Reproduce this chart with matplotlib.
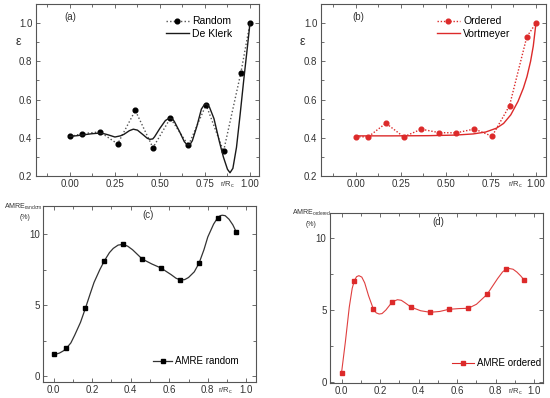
import matplotlib
matplotlib.use("Agg")
import matplotlib.pyplot as plt
from matplotlib.ticker import MultipleLocator

plt.rcParams['font.family'] = ['Liberation Sans', 'DejaVu Sans']
plt.rcParams['mathtext.fontset'] = 'custom'
plt.rcParams['mathtext.rm'] = 'Liberation Sans'
plt.rcParams['mathtext.it'] = 'Liberation Sans:italic'

# ---------------- data ----------------
x_eps = [0, 0.068, 0.166, 0.265, 0.363, 0.461, 0.558, 0.658, 0.756, 0.853, 0.949, 1.0]
random_eps = [0.407, 0.421, 0.431, 0.368, 0.543, 0.348, 0.503, 0.360, 0.573, 0.329, 0.739, 1.0]
ordered_eps = [0.405, 0.405, 0.476, 0.405, 0.445, 0.427, 0.426, 0.446, 0.408, 0.568, 0.928, 1.0]

deklerk_x = [0, 0.04, 0.08, 0.12, 0.145, 0.167, 0.19, 0.21, 0.25, 0.28, 0.30, 0.33, 0.352, 0.375,
             0.41, 0.43, 0.444, 0.46, 0.47, 0.50, 0.53, 0.545, 0.556, 0.57, 0.58, 0.61, 0.635,
             0.647, 0.657, 0.668, 0.68, 0.705, 0.73, 0.745, 0.754, 0.765, 0.775, 0.80, 0.83,
             0.852, 0.875, 0.889, 0.905, 0.925, 0.945, 0.965, 0.985, 1.0]
deklerk_y = [0.407, 0.411, 0.416, 0.421, 0.423, 0.424, 0.421, 0.416, 0.404, 0.41, 0.418, 0.437,
             0.445, 0.44, 0.413, 0.397, 0.392, 0.394, 0.405, 0.45, 0.49, 0.499, 0.502, 0.498,
             0.485, 0.43, 0.38, 0.367, 0.362, 0.366, 0.385, 0.46, 0.55, 0.571, 0.576, 0.572,
             0.56, 0.50, 0.38, 0.30, 0.235, 0.217, 0.24, 0.35, 0.52, 0.70, 0.87, 1.0]

vort_x = [0, 0.2, 0.4, 0.55, 0.65, 0.72, 0.78, 0.82, 0.86, 0.90, 0.93, 0.95, 0.97, 0.985, 1.0]
vort_y = [0.41, 0.41, 0.411, 0.414, 0.42, 0.43, 0.45, 0.475, 0.52, 0.59, 0.66, 0.72, 0.80, 0.88, 1.0]

x_amre = [0, 0.066, 0.165, 0.264, 0.36, 0.46, 0.557, 0.657, 0.755, 0.852, 0.948]
amre_random = [1.59, 1.96, 4.77, 8.13, 9.28, 8.25, 7.62, 6.78, 7.97, 11.17, 10.14]
amre_ordered = [0.63, 7.04, 5.07, 5.58, 5.21, 4.84, 5.05, 5.12, 6.09, 7.84, 7.09]

random_curve_x = [0, 0.015, 0.03, 0.05, 0.066, 0.09, 0.11, 0.14, 0.165, 0.19, 0.21, 0.24, 0.264,
                  0.29, 0.31, 0.335, 0.36, 0.385, 0.41, 0.46, 0.51, 0.557, 0.61, 0.635, 0.657,
                  0.68, 0.70, 0.73, 0.755, 0.78, 0.80, 0.83, 0.852, 0.865, 0.875, 0.89, 0.91,
                  0.93, 0.948]
random_curve_y = [1.59, 1.57, 1.63, 1.78, 1.96, 2.35, 2.9, 3.8, 4.77, 5.8, 6.6, 7.5, 8.13,
                  8.7, 9.0, 9.23, 9.28, 9.15, 8.9, 8.25, 7.9, 7.62, 7.15, 6.9, 6.78,
                  6.8, 6.95, 7.35, 7.97, 8.9, 9.8, 10.7, 11.17, 11.3, 11.33, 11.3, 11.05,
                  10.65, 10.14]

ordered_curve_x = [0, 0.02, 0.04, 0.055, 0.066, 0.078, 0.09, 0.105, 0.12, 0.14, 0.165, 0.18,
                   0.195, 0.21, 0.23, 0.264, 0.29, 0.31, 0.33, 0.36, 0.41, 0.46, 0.51, 0.557,
                   0.61, 0.657, 0.70, 0.755, 0.81, 0.835, 0.852, 0.87, 0.89, 0.91, 0.93, 0.948]
ordered_curve_y = [0.63, 2.8, 5.2, 6.5, 7.04, 7.33, 7.4, 7.3, 6.9, 6.0, 5.07, 4.8,
                   4.72, 4.75, 5.0, 5.58, 5.72, 5.68, 5.5, 5.21, 4.95, 4.84, 4.9, 5.05,
                   5.1, 5.12, 5.4, 6.09, 7.2, 7.65, 7.84, 7.9, 7.85, 7.65, 7.38, 7.09]

RED = '#dc2a2a'
BLK = '#1a1a1a'
SP = '#555555'
TXT = '#333333'

fig = plt.figure(figsize=(5.5, 3.98), dpi=100)

def W(px): return px / 550.0
def H(py): return 1 - py / 398.0

ax_a = fig.add_axes([W(35.7), H(176), W(259 - 35.7), (176 - 4) / 398.0])
ax_b = fig.add_axes([W(320.7), H(176), W(545.7 - 320.7), (176 - 4) / 398.0])
ax_c = fig.add_axes([W(43.3), H(382), W(256 - 43.3), (382 - 205.7) / 398.0])
ax_d = fig.add_axes([W(330), H(383), W(543.3 - 330), (383 - 212.7) / 398.0])

def style(ax):
    for s in ax.spines.values():
        s.set_color(SP)
        s.set_linewidth(0.8)
    ax.tick_params(axis='both', which='both', colors=SP, labelcolor=TXT,
                   labelsize=7, width=0.6, top=True, right=True,
                   labeltop=False, labelright=False)
    ax.tick_params(axis='both', which='both', direction='in')
    ax.tick_params(which='major', length=3, pad=2.5)
    ax.tick_params(which='minor', length=2)

def rrc(ax, xpos, dy=-9):
    ax.annotate('r/R$_\\mathregular{c}$', xy=(xpos, 0), xycoords=('data', 'axes fraction'),
                xytext=(0, dy), textcoords='offset pixels', ha='center', va='center',
                fontsize=5.5, color=TXT)

def leg(ax, px, py, hl, fs, loc='upper left'):
    ax.legend(loc=loc, bbox_to_anchor=(W(px), H(py)), bbox_transform=fig.transFigure,
              frameon=False, fontsize=fs, handlelength=hl, handletextpad=0.3,
              labelspacing=0.2, borderpad=0, borderaxespad=0)

# ---- (a)
ax = ax_a
ax.plot(x_eps, random_eps, ls=(0, (1, 1.6)), color='#555555', lw=1.0,
        marker='o', ms=3.4, mfc='black', mec='black', label='Random')
ax.plot(deklerk_x, deklerk_y, color=BLK, lw=1.0, label='De Klerk')
ax.set_xlim(-0.19, 1.05)
ax.set_ylim(0.2, 1.1)
ax.set_xticks([0, 0.25, 0.5, 0.75, 1.0])
ax.set_xticklabels(['0.00', '0.25', '0.50', '0.75', '1.00'])
ax.xaxis.set_minor_locator(MultipleLocator(0.125))
ax.set_yticks([0.2, 0.4, 0.6, 0.8, 1.0])
ax.yaxis.set_minor_locator(MultipleLocator(0.1))
style(ax)
leg(ax, 166, 16.5, 2.2, 7.5)
fig.text(W(70), H(17), '(a)', fontsize=7, color=TXT, ha='center', va='center')
fig.text(W(18), H(42), 'ε', fontsize=9, color=TXT, ha='center', va='center')
rrc(ax, 0.877)

# ---- (b)
ax = ax_b
ax.plot(x_eps, ordered_eps, ls=(0, (1, 1.3)), color=RED, lw=1.0,
        marker='o', ms=3.4, mfc=RED, mec=RED, label='Ordered')
ax.plot(vort_x, vort_y, color=RED, lw=1.0, label='Vortmeyer')
ax.set_xlim(-0.196, 1.054)
ax.set_ylim(0.2, 1.1)
ax.set_xticks([0, 0.25, 0.5, 0.75, 1.0])
ax.set_xticklabels(['0.00', '0.25', '0.50', '0.75', '1.00'])
ax.xaxis.set_minor_locator(MultipleLocator(0.125))
ax.set_yticks([0.2, 0.4, 0.6, 0.8, 1.0])
ax.yaxis.set_minor_locator(MultipleLocator(0.1))
style(ax)
leg(ax, 437, 16.5, 2.2, 7.5)
fig.text(W(358), H(17), '(b)', fontsize=7, color=TXT, ha='center', va='center')
fig.text(W(302), H(42), 'ε', fontsize=9, color=TXT, ha='center', va='center')
rrc(ax, 0.883)

# ---- (c)
ax = ax_c
ax.plot(random_curve_x, random_curve_y, color='#333333', lw=0.9)
ax.plot(x_amre, amre_random, ls='none', marker='s', ms=2.6, mfc='black', mec='black')
ax.plot([], [], color='#333333', lw=0.9, marker='s', ms=2.6, mfc='black', mec='black',
        label='AMRE random')
ax.set_xlim(-0.053, 1.05)
ax.set_ylim(-0.4, 12)
ax.set_xticks([0, 0.2, 0.4, 0.6, 0.8, 1.0])
ax.xaxis.set_minor_locator(MultipleLocator(0.1))
ax.set_yticks([0, 5, 10])
ax.yaxis.set_minor_locator(MultipleLocator(2.5))
style(ax)
leg(ax, 153, 361, 2.0, 7, loc='center left')
fig.text(W(148), H(215), '(c)', fontsize=7, color=TXT, ha='center', va='center')
fig.text(W(23), H(206.5), 'AMRE$_\\mathregular{random}$', fontsize=5, color=TXT,
         ha='center', va='center')
fig.text(W(25), H(217.5), '(%)', fontsize=5, color=TXT, ha='center', va='center')
rrc(ax, 0.89)

# ---- (d)
ax = ax_d
ax.plot(ordered_curve_x, ordered_curve_y, color=RED, lw=0.8, alpha=0.9)
ax.plot(x_amre, amre_ordered, ls='none', marker='s', ms=2.6, mfc=RED, mec=RED)
ax.plot([], [], color=RED, lw=0.8, marker='s', ms=2.6, mfc=RED, mec=RED,
        label='AMRE ordered')
ax.set_xlim(-0.06, 1.047)
ax.set_ylim(-0.1, 11.8)
ax.set_xticks([0, 0.2, 0.4, 0.6, 0.8, 1.0])
ax.xaxis.set_minor_locator(MultipleLocator(0.1))
ax.set_yticks([0, 5, 10])
ax.yaxis.set_minor_locator(MultipleLocator(2.5))
style(ax)
leg(ax, 452, 363.3, 2.3, 7, loc='center left')
fig.text(W(438), H(222.5), '(d)', fontsize=7, color=TXT, ha='center', va='center')
fig.text(W(311), H(213), 'AMRE$_\\mathregular{ordered}$', fontsize=5, color=TXT,
         ha='center', va='center')
fig.text(W(311), H(224), '(%)', fontsize=5, color=TXT, ha='center', va='center')
rrc(ax, 0.9)

fig.savefig('out.png', dpi=100)
